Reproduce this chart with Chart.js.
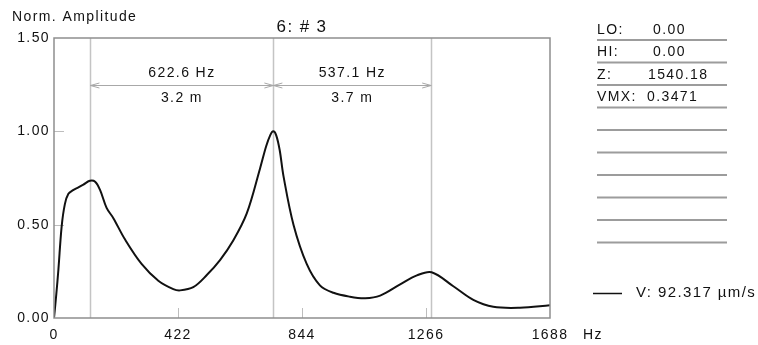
<!DOCTYPE html>
<html>
<head>
<meta charset="utf-8">
<title>6: # 3</title>
<script src="https://cdn.jsdelivr.net/npm/chart.js@4.4.1/dist/chart.umd.min.js"></script>
<style>
    html, body { margin: 0; padding: 0; background: #fff; }
    canvas { display: block; }
</style>
</head>
<body>
<canvas id="specChart" width="758" height="345"></canvas>
<script>
// 频谱数据
const freqHz = [0, 8, 15, 26, 37, 49, 65, 83, 100, 122, 140, 157, 179, 202, 242, 298, 355, 406, 429, 474,
    520, 565, 610, 656, 701, 722, 736, 746, 756, 768, 781, 815, 860, 905, 951, 1007, 1059, 1110, 1178, 1235,
    1285, 1359, 1427, 1495, 1586, 1688];
const amplitude = [0, 0.13, 0.26, 0.49, 0.61, 0.665, 0.685, 0.70, 0.715, 0.735, 0.73, 0.685, 0.59, 0.535,
    0.42, 0.29, 0.2, 0.155, 0.148, 0.165, 0.23, 0.31, 0.415, 0.56, 0.80, 0.92, 0.98, 1.0, 0.98, 0.90, 0.76,
    0.50, 0.29, 0.175, 0.135, 0.114, 0.106, 0.12, 0.18, 0.228, 0.245, 0.17, 0.097, 0.06, 0.055, 0.068];

// 坐标轴刻度
const xTicks = [0, 422, 844, 1266, 1688];
const yTicks = [0, 0.5, 1.0, 1.5];

// 峰值标记线与间距标注
const markerHz = [124, 746.6, 1283.7];
const spanTop = ['622.6 Hz', '537.1 Hz'];
const spanBottom = ['3.2 m', '3.7 m'];

// 右侧参数表
const infoLabels = ['LO:', 'HI:', 'Z:', 'VMX:'];
const infoValues = ['0.00', '0.00', '1540.18', '0.3471'];
const legendText = 'V: 92.317 µm/s';

const FONT = '"Liberation Sans", Arial, sans-serif';

const overlay = {
    id: 'overlay',
    beforeDraw(chart) {
        chart.ctx.letterSpacing = '1.4px';
    },
    beforeDatasetsDraw(chart) {
        const ctx = chart.ctx;
        const area = chart.chartArea;
        const xs = chart.scales.x;
        const ys = chart.scales.y;
        ctx.save();
        // 标记竖线
        ctx.strokeStyle = '#c4c4c4';
        ctx.lineWidth = 1.5;
        markerHz.forEach(f => {
            const px = Math.round(xs.getPixelForValue(f)) + 0.5;
            ctx.beginPath();
            ctx.moveTo(px, area.top);
            ctx.lineTo(px, area.bottom);
            ctx.stroke();
        });
        // 向内的刻度
        ctx.strokeStyle = '#bdbdbd';
        ctx.lineWidth = 1;
        xTicks.slice(1, -1).forEach(v => {
            const px = Math.round(xs.getPixelForValue(v)) + 0.5;
            ctx.beginPath();
            ctx.moveTo(px, area.bottom);
            ctx.lineTo(px, area.bottom - 10);
            ctx.stroke();
        });
        yTicks.slice(1, -1).forEach(v => {
            const py = Math.round(ys.getPixelForValue(v)) + 0.5;
            ctx.beginPath();
            ctx.moveTo(area.left, py);
            ctx.lineTo(area.left + 10, py);
            ctx.stroke();
        });
        // 间距箭头
        const arrowY = 85.5;
        ctx.strokeStyle = '#a8a8a8';
        for (let i = 0; i < markerHz.length - 1; i++) {
            const a = xs.getPixelForValue(markerHz[i]);
            const b = xs.getPixelForValue(markerHz[i + 1]);
            ctx.beginPath();
            ctx.moveTo(a, arrowY);
            ctx.lineTo(b, arrowY);
            ctx.moveTo(a + 9, arrowY - 2.5);
            ctx.lineTo(a, arrowY);
            ctx.lineTo(a + 9, arrowY + 2.5);
            ctx.moveTo(b - 9, arrowY - 2.5);
            ctx.lineTo(b, arrowY);
            ctx.lineTo(b - 9, arrowY + 2.5);
            ctx.stroke();
            ctx.fillStyle = '#111';
            ctx.font = '14px ' + FONT;
            ctx.textAlign = 'center';
            ctx.textBaseline = 'middle';
            ctx.fillText(spanTop[i], (a + b) / 2, 73);
            ctx.fillText(spanBottom[i], (a + b) / 2, 98);
        }
        ctx.restore();
    },
    afterDraw(chart) {
        const ctx = chart.ctx;
        const area = chart.chartArea;
        ctx.save();
        // 外框
        ctx.strokeStyle = '#8e8e8e';
        ctx.lineWidth = 1.5;
        ctx.strokeRect(area.left, area.top, area.right - area.left, area.bottom - area.top);

        ctx.fillStyle = '#111';
        ctx.textBaseline = 'middle';
        // 标题与轴名
        ctx.font = '17px ' + FONT;
        ctx.textAlign = 'center';
        ctx.fillText('6: # 3', (area.left + area.right) / 2, 27);
        ctx.font = '14px ' + FONT;
        ctx.textAlign = 'left';
        ctx.fillText('Norm. Amplitude', 12, 17);
        ctx.fillText('Hz', 583, 335);

        // 右侧参数表
        const valueX = [653, 653, 648, 647];
        infoLabels.forEach((lab, i) => {
            const y = 30 + i * 22.4;
            ctx.fillText(lab, 597, y);
            ctx.fillText(infoValues[i], valueX[i], y);
        });
        ctx.strokeStyle = '#9c9c9c';
        ctx.lineWidth = 2;
        for (let i = 0; i < 10; i++) {
            const y = 40 + i * 22.5;
            ctx.beginPath();
            ctx.moveTo(597, y);
            ctx.lineTo(727, y);
            ctx.stroke();
        }

        // 图例
        ctx.strokeStyle = '#111';
        ctx.lineWidth = 1.5;
        ctx.beginPath();
        ctx.moveTo(593, 293.5);
        ctx.lineTo(622, 293.5);
        ctx.stroke();
        ctx.font = '15px ' + FONT;
        ctx.fillText(legendText, 636, 293);
        ctx.restore();
    }
};

const ctx = document.getElementById('specChart').getContext('2d');
const specChart = new Chart(ctx, {
    type: 'line',
    data: {
        datasets: [{
            label: 'V',
            data: freqHz.map((f, i) => ({ x: f, y: amplitude[i] })),
            borderColor: '#111',
            borderWidth: 2,
            pointRadius: 0,
            tension: 0.35,
            fill: false
        }]
    },
    options: {
        responsive: false,
        animation: false,
        events: [],
        layout: {
            padding: { left: 0, top: 38, right: 208, bottom: 0 }
        },
        scales: {
            x: {
                type: 'linear',
                min: 0,
                max: 1688,
                afterBuildTicks: scale => { scale.ticks = xTicks.map(v => ({ value: v })); },
                afterFit: scale => { scale.height = 27; },
                grid: { display: false, drawTicks: false },
                border: { display: false },
                ticks: {
                    autoSkip: false,
                    maxRotation: 0,
                    padding: 9,
                    color: '#111',
                    font: { family: FONT, size: 14 },
                    callback: value => String(value)
                }
            },
            y: {
                min: 0,
                max: 1.5,
                afterBuildTicks: scale => { scale.ticks = yTicks.map(v => ({ value: v })); },
                afterFit: scale => { scale.width = 54; },
                grid: { display: false, drawTicks: false },
                border: { display: false },
                ticks: {
                    autoSkip: false,
                    padding: 4,
                    color: '#111',
                    font: { family: FONT, size: 14 },
                    callback: value => value.toFixed(2)
                }
            }
        },
        plugins: {
            legend: { display: false },
            tooltip: { enabled: false },
            title: { display: false }
        }
    },
    plugins: [overlay]
});
</script>
</body>
</html>
